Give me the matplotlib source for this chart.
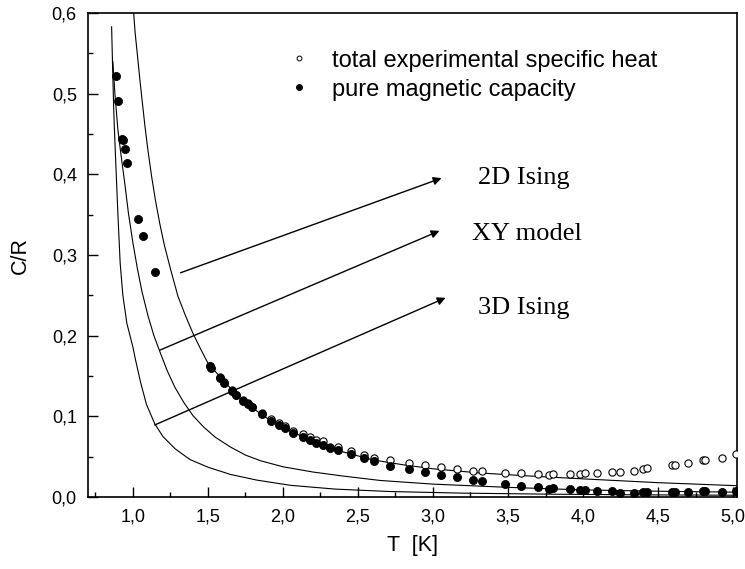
import matplotlib
matplotlib.use("Agg")
import matplotlib.pyplot as plt
from matplotlib.lines import Line2D
from matplotlib.ticker import MultipleLocator

plt.rcParams['font.family'] = ['Liberation Sans', 'DejaVu Sans']

# ---- data ----
mag_T = [0.889, 0.900, 0.925, 0.931, 0.944, 0.963, 1.031, 1.070, 1.150,
         1.515, 1.522, 1.580, 1.606, 1.658, 1.684, 1.735, 1.769, 1.796, 1.862,
         1.918, 1.974, 2.016, 2.070, 2.132, 2.177, 2.221, 2.266, 2.315, 2.364,
         2.453, 2.542, 2.604, 2.716, 2.840, 2.950, 3.055, 3.160, 3.266, 3.329,
         3.478, 3.587, 3.699, 3.774, 3.800, 3.915, 3.980, 4.010, 4.093, 4.190,
         4.247, 4.342, 4.398, 4.425, 4.594, 4.610, 4.700, 4.800, 4.815, 4.925, 5.017]
mag_C = [0.522, 0.491, 0.444, 0.443, 0.431, 0.414, 0.345, 0.324, 0.279,
         0.162, 0.160, 0.148, 0.141, 0.132, 0.126, 0.119, 0.115, 0.111, 0.1025,
         0.0946, 0.0893, 0.0851, 0.079, 0.0748, 0.0707, 0.0673, 0.0648, 0.0603, 0.0583,
         0.0529, 0.048, 0.0446, 0.0388, 0.0343, 0.0306, 0.0269, 0.0248, 0.0211, 0.0198,
         0.0161, 0.014, 0.0124, 0.0099, 0.0112, 0.0095, 0.0087, 0.0087, 0.0074, 0.0074,
         0.0054, 0.0045, 0.0062, 0.0066, 0.0066, 0.0066, 0.0066, 0.0078, 0.0078, 0.0058, 0.0078]

tot_T = [1.515, 1.580, 1.606, 1.658, 1.684, 1.735, 1.769, 1.796, 1.862,
         1.918, 1.974, 2.016, 2.070, 2.132, 2.177, 2.221, 2.266, 2.315, 2.364,
         2.453, 2.542, 2.604, 2.716, 2.840, 2.950, 3.055, 3.160, 3.266, 3.329,
         3.478, 3.587, 3.699, 3.774, 3.800, 3.912, 3.980, 4.013, 4.093, 4.190,
         4.247, 4.342, 4.398, 4.425, 4.594, 4.610, 4.700, 4.800, 4.815, 4.925, 5.017]
tot_C = [0.163, 0.149, 0.142, 0.133, 0.127, 0.120, 0.116, 0.112, 0.104,
         0.097, 0.092, 0.088, 0.082, 0.078, 0.074, 0.071, 0.069, 0.0616, 0.0616,
         0.057, 0.052, 0.049, 0.0459, 0.0425, 0.0393, 0.0368, 0.0351, 0.0326, 0.0322,
         0.0298, 0.0294, 0.0285, 0.0273, 0.0285, 0.0285, 0.0285, 0.0294, 0.0298, 0.031,
         0.031, 0.0322, 0.0347, 0.0356, 0.0397, 0.0397, 0.0425, 0.0455, 0.0462, 0.0483, 0.0533]

ising2d_T = [1.005, 1.015, 1.030, 1.045, 1.060, 1.080, 1.100, 1.125, 1.150, 1.180,
             1.210, 1.250, 1.300, 1.350, 1.400, 1.450, 1.500, 1.600, 1.700, 1.800,
             1.900, 2.000, 2.200, 2.400, 2.600, 2.800, 3.000, 3.300, 3.600, 4.000,
             4.500, 5.030]
ising2d_C = [0.600, 0.575, 0.548, 0.520, 0.494, 0.460, 0.430, 0.397, 0.368, 0.338,
             0.312, 0.283, 0.249, 0.225, 0.203, 0.184, 0.166, 0.145, 0.125, 0.110,
             0.097, 0.086, 0.069, 0.056, 0.046, 0.040, 0.035, 0.030, 0.0265, 0.0225,
             0.0178, 0.0140]

xy_T = [0.866, 0.880, 0.900, 0.920, 0.945, 0.970, 1.000, 1.030, 1.060, 1.100,
        1.140, 1.180, 1.230, 1.280, 1.340, 1.400, 1.470, 1.550, 1.650, 1.750,
        1.850, 2.000, 2.200, 2.400, 2.650, 3.000, 3.500, 4.000, 4.500, 5.030]
xy_C = [0.540, 0.500, 0.455, 0.425, 0.390, 0.352, 0.315, 0.283, 0.255, 0.225,
        0.200, 0.180, 0.156, 0.136, 0.117, 0.101, 0.087, 0.074, 0.062, 0.052,
        0.045, 0.0375, 0.031, 0.026, 0.0205, 0.016, 0.012, 0.0088, 0.0072, 0.0060]

ising3d_T = [0.858, 0.865, 0.872, 0.880, 0.890, 0.900, 0.915, 0.933, 0.960, 1.000,
             1.015, 1.050, 1.090, 1.145, 1.200, 1.280, 1.380, 1.500, 1.650, 1.825,
             2.050, 2.350, 2.715, 3.200, 3.800, 4.400, 5.030]
ising3d_C = [0.583, 0.530, 0.480, 0.440, 0.395, 0.350, 0.290, 0.250, 0.215, 0.186,
             0.172, 0.143, 0.115, 0.091, 0.075, 0.060, 0.0465, 0.037, 0.028, 0.021,
             0.0145, 0.0098, 0.0068, 0.0048, 0.0035, 0.0027, 0.0022]

labels = ["2D Ising", "XY model", "3D Ising"]
arrow_start_T = [1.317, 1.178, 1.145]
arrow_start_C = [0.278, 0.182, 0.0893]
arrow_end_T = [3.057, 3.043, 3.084]
arrow_end_C = [0.3954, 0.330, 0.247]
label_T = [3.297, 3.262, 3.300]
label_C = [0.396, 0.326, 0.234]

xtick_vals = [1.0, 1.5, 2.0, 2.5, 3.0, 3.5, 4.0, 4.5, 5.0]
xtick_labels = ["1,0", "1,5", "2,0", "2,5", "3,0", "3,5", "4,0", "4,5", "5,0"]
ytick_vals = [0.0, 0.1, 0.2, 0.3, 0.4, 0.5, 0.6]
ytick_labels = ["0,0", "0,1", "0,2", "0,3", "0,4", "0,5", "0,6"]

legend_labels = ["total experimental specific heat", "pure magnetic capacity"]

# ---- figure ----
fig = plt.figure(figsize=(7.45, 5.69), dpi=100)
ax = fig.add_axes([0.118, 0.1265, 0.871, 0.8505])

for T, C in [(ising2d_T, ising2d_C), (xy_T, xy_C), (ising3d_T, ising3d_C)]:
    ax.plot(T, C, color='black', lw=0.8, zorder=2)

ax.plot(tot_T, tot_C, linestyle='none', marker='o', ms=5.2, mfc='white',
        mec='black', mew=0.8, zorder=3)
ax.plot(mag_T, mag_C, linestyle='none', marker='o', ms=5.8, mfc='black',
        mec='black', mew=0.6, zorder=4)

for lab, x0, y0, x1, y1, lx, ly in zip(labels, arrow_start_T, arrow_start_C,
                                        arrow_end_T, arrow_end_C, label_T, label_C):
    ax.annotate("", xy=(x1, y1), xytext=(x0, y0),
                arrowprops=dict(arrowstyle='-|>', color='black', lw=1.0,
                                mutation_scale=12, shrinkA=0, shrinkB=0))
    ax.text(lx, ly, lab, family=['Liberation Serif', 'DejaVu Serif'],
            fontsize=19, ha='left', va='center')

handles = [Line2D([], [], linestyle='none', marker='o', ms=3.5, mfc='white', mec='black', mew=0.7),
           Line2D([], [], linestyle='none', marker='o', ms=4.0, mfc='black', mec='black')]
ax.legend(handles, legend_labels, loc='upper left', bbox_to_anchor=(0.293, 0.944),
          frameon=False, fontsize=17, handletextpad=0.9, labelspacing=0.3,
          borderaxespad=0, handlelength=1.0)

ax.set_xlim(0.7, 5.025)
ax.set_ylim(0.0, 0.6)
ax.set_xticks(xtick_vals)
ax.set_xticklabels(xtick_labels)
ax.set_yticks(ytick_vals)
ax.set_yticklabels(ytick_labels)
ax.xaxis.set_minor_locator(MultipleLocator(0.25))
ax.yaxis.set_minor_locator(MultipleLocator(0.05))
ax.tick_params(which='major', direction='in', length=7, width=1.0, labelsize=13, pad=8)
ax.tick_params(which='minor', direction='in', length=3.5, width=1.0)
ax.tick_params(top=False, right=False)
for s in ax.spines.values():
    s.set_linewidth(1.2)

ax.set_xlabel("T  [K]", fontsize=15.5, labelpad=7)
ax.set_ylabel("C/R", fontsize=15.5, labelpad=15)

fig.savefig("out.png", dpi=100)
